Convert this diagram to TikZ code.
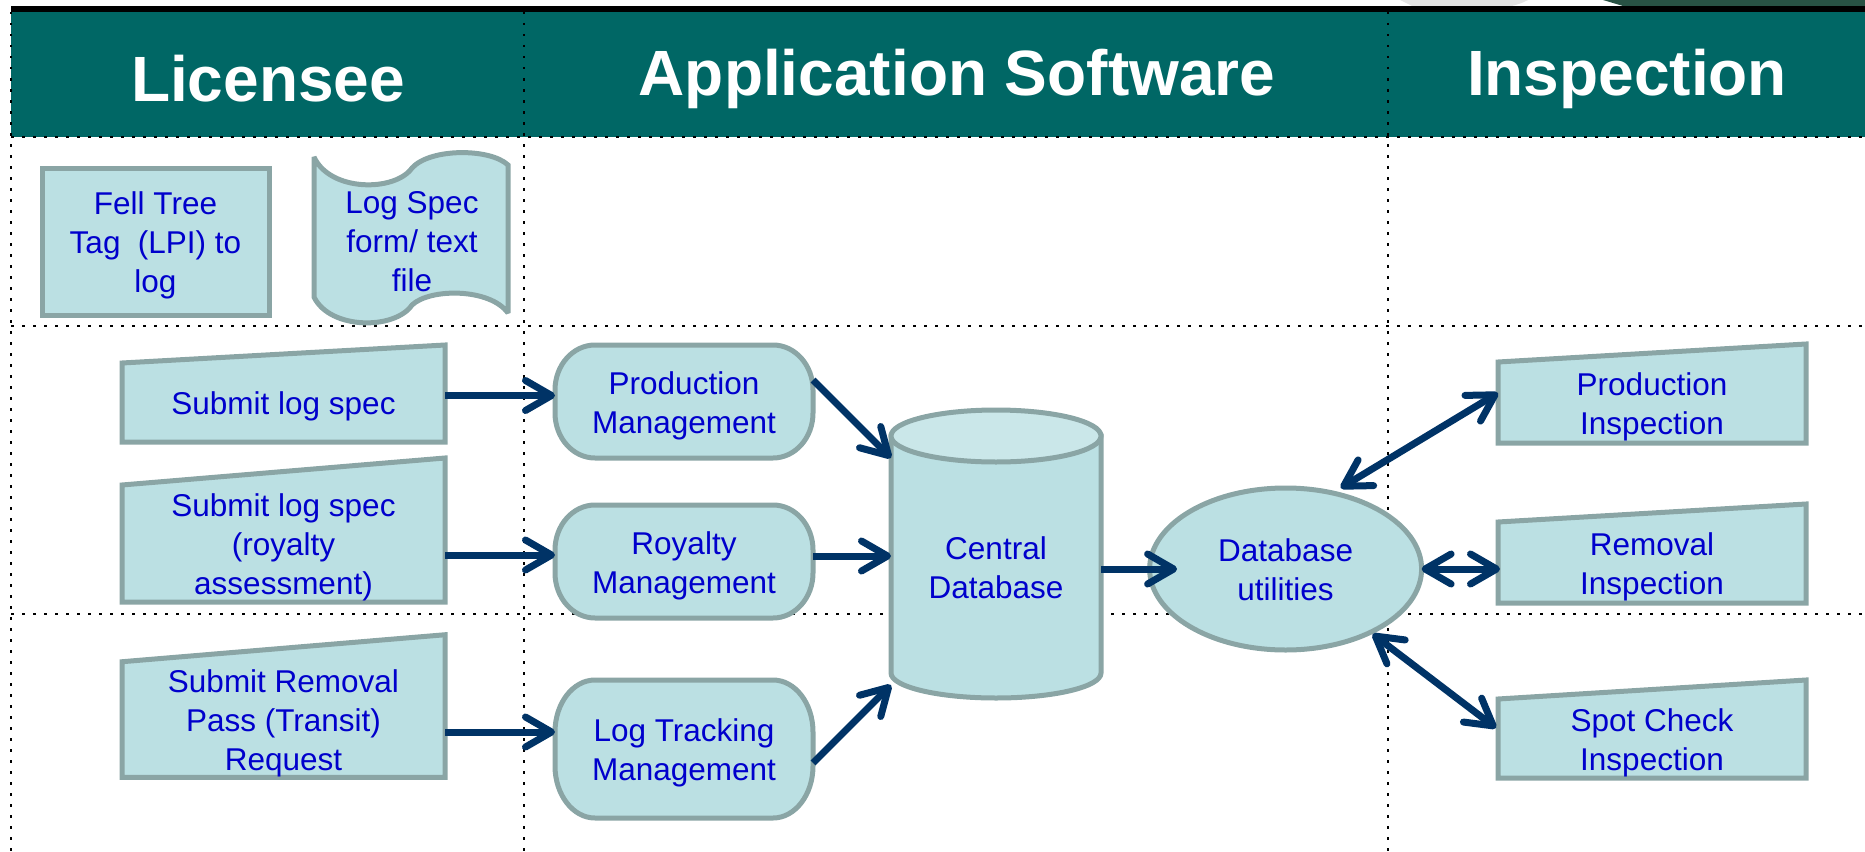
\documentclass[tikz,border=0pt]{standalone}
\usepackage{fontspec}
\setmainfont{Liberation Sans}
\usetikzlibrary{arrows.meta,calc,shapes.geometric}
\definecolor{boxfill}{RGB}{187,224,227}
\definecolor{boxline}{RGB}{138,165,165}
\definecolor{txtblue}{RGB}{0,0,204}
\definecolor{navy}{RGB}{0,51,102}
\definecolor{hdrteal}{RGB}{0,103,101}
\definecolor{dbtop}{RGB}{202,231,233}
\definecolor{cornergreen}{RGB}{40,82,68}
\definecolor{swoosh}{RGB}{228,228,228}
\pgfdeclarelayer{bg}
\pgfsetlayers{bg,main}
\newcommand{\topstr}{\rule{0pt}{31pt}}
\newcommand{\botstr}{\rule[-6.5pt]{0pt}{0pt}}
\newcommand{\stadiumpath}[3]{%
  \draw[shp] ($(#1.north west)+(#2,0)$) -- ($(#1.north east)+(-#2,0)$)
    arc[start angle=90,end angle=0,x radius=#2pt,y radius=#3pt]
    -- ($(#1.south east)+(0,-#3)$)
    arc[start angle=0,end angle=-90,x radius=#2pt,y radius=#3pt]
    -- ($(#1.south west)+(#2,0)$)
    arc[start angle=270,end angle=180,x radius=#2pt,y radius=#3pt]
    -- ($(#1.north west)+(0,#3)$)
    arc[start angle=180,end angle=90,x radius=#2pt,y radius=#3pt] -- cycle;}
\newcommand{\manualpath}[2]{%
  \draw[shp] (#1.south west) -- (#1.north west) -- ($(#1.north east)+(0,-#2)$) -- (#1.south east) -- cycle;}
\begin{document}
\begin{tikzpicture}[x=1pt,y=-1pt,
  lbl/.style={font=\fontsize{31.5pt}{39pt}\selectfont, text=txtblue, align=center, inner sep=0pt, outer sep=0pt},
  hdr/.style={font=\fontsize{64pt}{70pt}\selectfont\bfseries, text=white, inner sep=0pt},
  shp/.style={draw=boxline, line width=5pt, fill=boxfill, line join=miter},
  dotline/.style={draw=black, line width=2.5pt, dash pattern=on 2.5pt off 8.5pt},
  >={Straight Barb[length=26pt,width=30pt,round]},
  arr/.style={draw=navy, line width=7pt, ->},
  dbl/.style={draw=navy, line width=7pt, <->}]
\useasboundingbox (0,0) rectangle (1865,851);

% header nodes
\node[hdr] (hl) at (268,78.5) {Licensee};
\node[hdr] (ha) at (957,78.5) {Application Software};
\node[hdr] (hi) at (1627,78.5) {Inspection};

% content nodes
\node[lbl, minimum width=227pt, minimum height=147pt] (fell) at (155.5,241.5) {\topstr Fell Tree\\Tag\ \ (LPI) to\\log\botstr};
\node[lbl, minimum width=194pt, minimum height=140pt] (logspec) at (412,240) {\topstr Log Spec\\form/ text\\file\botstr};

\node[lbl, minimum width=323pt, minimum height=79pt] (s1) at (283.5,402.5) {\topstr Submit log spec\botstr};
\node[lbl, minimum width=323pt, minimum height=117pt] (s2) at (283.5,543.5) {\topstr Submit log spec\\(royalty\\assessment)\botstr};
\node[lbl, minimum width=323pt, minimum height=115pt] (s3) at (283.5,719.5) {\topstr Submit Removal\\Pass (Transit)\\Request\botstr};

\node[lbl, minimum width=258pt, minimum height=113pt] (pm) at (684,401.5) {\topstr Production\\Management\botstr};
\node[lbl, minimum width=258pt, minimum height=113pt] (rm) at (684,561.5) {\topstr Royalty\\Management\botstr};
\node[lbl, minimum width=258pt, minimum height=138pt] (ltm) at (684,749) {\topstr Log Tracking\\Management\botstr};

\node[lbl, minimum width=210pt, minimum height=262pt] (db) at (996,567) {\topstr Central\\Database\botstr};

\node[lbl, ellipse, draw=boxline, line width=5pt, fill=boxfill, minimum width=272pt, minimum height=162pt] (dbu) at (1285.6,569) {\topstr Database\\utilities\botstr};

\node[lbl, minimum width=308pt, minimum height=81pt] (pi) at (1652,402.5) {\topstr Production\\Inspection\botstr};
\node[lbl, minimum width=308pt, minimum height=81pt] (ri) at (1652,562.5) {\topstr Removal\\Inspection\botstr};
\node[lbl, minimum width=308pt, minimum height=79pt] (sci) at (1652,738.5) {\topstr Spot Check\\Inspection\botstr};

\begin{pgfonlayer}{bg}
  % header band
  \fill[swoosh] (1400,0) -- (1528,0) .. controls (1522,3) .. (1512,6) -- (1412,6) -- cycle;
  \fill[cornergreen] (1603,0) -- (1865,0) -- (1865,6) -- (1623,6) -- cycle;
  \fill[black] (11,6) rectangle (1865,12);
  \fill[hdrteal] (11,12) rectangle (1865,137);
  % swimlane grid
  \draw[dotline] (11,12) -- (11,851);
  \draw[dotline] (524,12) -- (524,851);
  \draw[dotline] (1388,12) -- (1388,851);
  \draw[dotline] (11,137) -- (1865,137);
  \draw[dotline] (11,326) -- (1865,326);
  \draw[dotline] (11,614) -- (1865,614);
  % shapes
  \draw[shp] (fell.north west) rectangle (fell.south east);
  \draw[shp, miter limit=3] (314,157) .. controls (330,192) and (395,192) .. (412,168)
     .. controls (430,148) and (490,148) .. (508,165)
     -- (508,313) .. controls (490,288) and (430,288) .. (412,305)
     .. controls (395,330) and (330,330) .. (314,297) -- cycle;
  \manualpath{s1}{18}
  \manualpath{s2}{27}
  \manualpath{s3}{27}
  \manualpath{pi}{18}
  \manualpath{ri}{18}
  \manualpath{sci}{19}
  \stadiumpath{pm}{40}{45}
  \stadiumpath{rm}{40}{45}
  \stadiumpath{ltm}{40}{52}
  \draw[shp] (db.north west) -- ($(db.south west)+(0,-25)$)
     arc[start angle=180,end angle=360,x radius=105pt,y radius=25pt]
     -- (db.north east) -- cycle;
  \draw[shp, fill=dbtop] (db.north) ellipse [x radius=105pt, y radius=26pt];
\end{pgfonlayer}

% connectors
\draw[arr] ($(s1.east)+(0,-7)$) -- ($(pm.west)+(0,-6)$);
\draw[arr] ($(s2.east)+(0,11.5)$) -- ($(rm.west)+(0,-6.5)$);
\draw[arr] ($(s3.east)+(0,12.5)$) -- ($(ltm.west)+(0,-17)$);
\draw[arr] ($(pm.east)+(0,-21.5)$) -- ($(db.west)+(0,-109)$);
\draw[arr] ($(rm.east)+(0,-5.5)$) -- ($(db.west)+(0,-11)$);
\draw[arr] ($(ltm.east)+(0,14)$) -- ($(db.west)+(0,118)$);
\draw[arr] ($(db.east)+(0,2)$) -- ($(dbu.west)+(27.5,0)$);
\draw[dbl] ($(dbu.north)+(55,0)$) -- ($(pi.west)+(0,-9.5)$);
\draw[dbl] (dbu.east) -- ($(ri.west)+(2,6.5)$);
\draw[dbl] ($(dbu.center)+(87,65)$) -- ($(sci.west)+(-2,-10.5)$);
\end{tikzpicture}
\end{document}
